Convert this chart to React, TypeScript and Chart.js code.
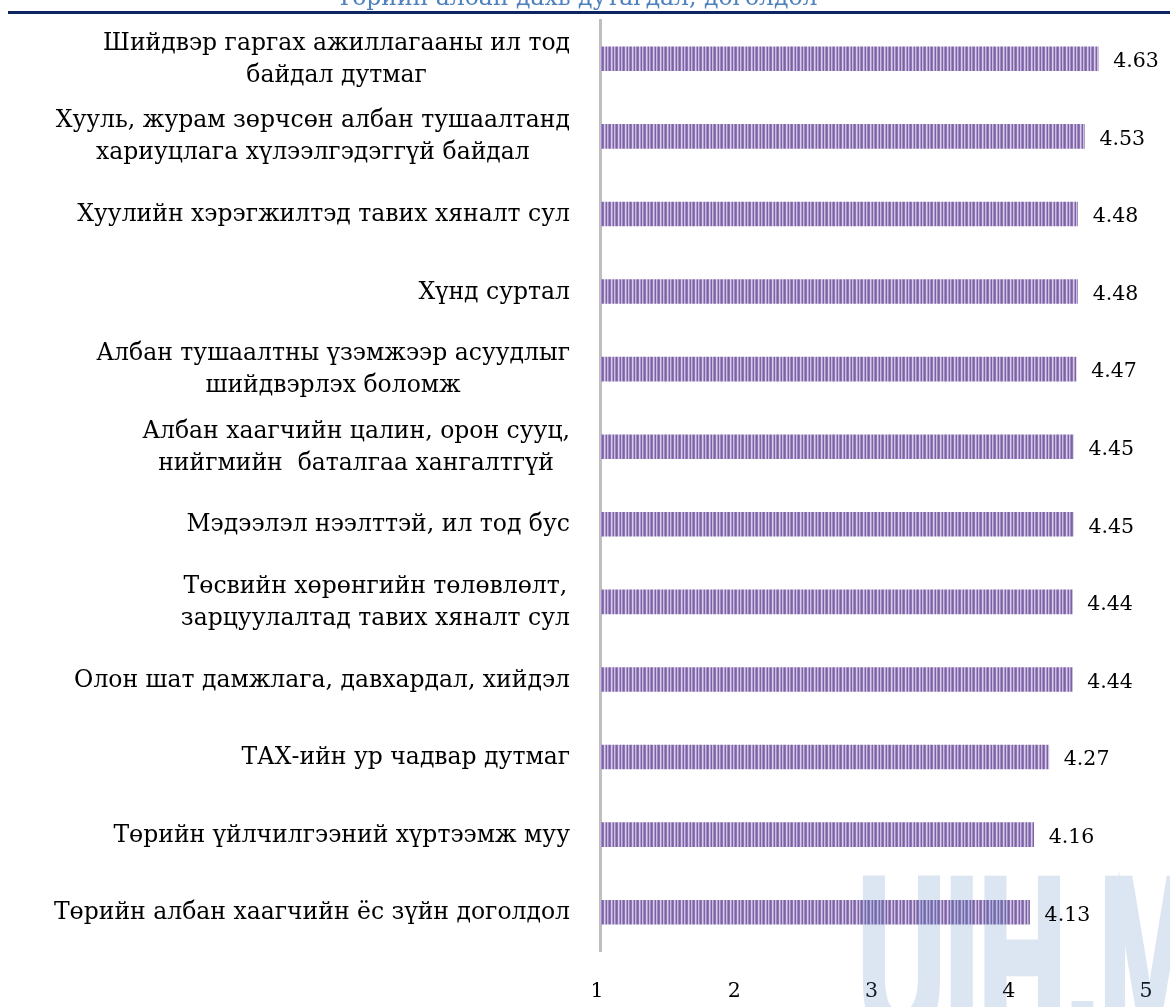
import React, { useEffect, useRef } from "react";
import { Chart, registerables } from "chart.js";

Chart.register(...registerables);

// ---------- data ----------
const categories: string[][] = [
  ["Шийдвэр гаргах ажиллагааны ил тод", "байдал дутмаг"],
  ["Хууль, журам зөрчсөн албан тушаалтанд", "хариуцлага хүлээлгэдэггүй байдал"],
  ["Хуулийн хэрэгжилтэд тавих хяналт сул"],
  ["Хүнд суртал"],
  ["Албан тушаалтны үзэмжээр асуудлыг", "шийдвэрлэх боломж"],
  ["Албан хаагчийн цалин, орон сууц,", "нийгмийн  баталгаа хангалтгүй"],
  ["Мэдээлэл нээлттэй, ил тод бус"],
  ["Төсвийн хөрөнгийн төлөвлөлт,", "зарцуулалтад тавих хяналт сул"],
  ["Олон шат дамжлага, давхардал, хийдэл"],
  ["ТАХ-ийн ур чадвар дутмаг"],
  ["Төрийн үйлчилгээний хүртээмж муу"],
  ["Төрийн албан хаагчийн ёс зүйн доголдол"],
];
const values: number[] = [4.63, 4.53, 4.48, 4.48, 4.47, 4.45, 4.45, 4.44, 4.44, 4.27, 4.16, 4.13];
const xTickValues: number[] = [1, 2, 3, 4, 5];
const titleText = "Төрийн албан дахь дутагдал, доголдол";
const watermarkText = "UIH.M";

const FONT = '"DejaVu Serif", "Liberation Serif", serif';
const LABEL_SIZE = 23.5;
const NUM_SIZE = 20.5;

function makePattern(): CanvasPattern | string {
  const tile = document.createElement("canvas");
  tile.width = 7;
  tile.height = 1;
  const c = tile.getContext("2d");
  if (!c) return "#8064a2";
  const cols = ["#7e62a3", "#8e75b3", "#d6cde9", "#ae9bcc", "#7e62a3", "#c9bde2", "#a08bc3"];
  cols.forEach((col, i) => {
    c.fillStyle = col;
    c.fillRect(i, 0, 1, 1);
  });
  const p = c.createPattern(tile, "repeat");
  return p || "#8064a2";
}

function drawWatermark(ctx: CanvasRenderingContext2D, w: number, h: number) {
  const off = document.createElement("canvas");
  off.width = w;
  off.height = h;
  const o = off.getContext("2d");
  if (!o) return;
  o.fillStyle = "#4f81bd";
  o.strokeStyle = "#4f81bd";
  o.lineJoin = "miter";
  o.font = 'bold 232px "Liberation Sans", Arial, sans-serif';
  o.textBaseline = "alphabetic";
  o.translate(858, 1040);
  o.scale(0.52, 1);
  o.lineWidth = 9;
  o.fillText(watermarkText, 0, 0);
  o.strokeText(watermarkText, 0, 0);
  ctx.save();
  ctx.setTransform(1, 0, 0, 1, 0, 0);
  ctx.globalAlpha = 0.2;
  ctx.drawImage(off, 0, 0);
  ctx.restore();
}

const decorPlugin = {
  id: "decor",
  afterDatasetsDraw(chart: any) {
    drawWatermark(chart.ctx, chart.canvas.width, chart.canvas.height);
  },
  afterDraw(chart: any) {
    const ctx = chart.ctx as CanvasRenderingContext2D;
    const yScale = chart.scales.y;
    ctx.save();
    // header title (cut off at top) and rule
    ctx.fillStyle = "#4f81bd";
    ctx.font = `${LABEL_SIZE}px ${FONT}`;
    ctx.textAlign = "center";
    ctx.textBaseline = "alphabetic";
    ctx.fillText(titleText, 577, 5);
    ctx.fillStyle = "#0d2561";
    ctx.fillRect(8, 11, 1162, 3);

    // category labels
    ctx.fillStyle = "#000";
    ctx.textBaseline = "middle";
    ctx.textAlign = "center";
    categories.forEach((lines, i) => {
      const cy = yScale.getPixelForValue(i);
      const w = Math.max(...lines.map((l) => ctx.measureText(l).width));
      const cx = 570 - w / 2;
      lines.forEach((l, j) => {
        ctx.fillText(l, cx, cy + (j - (lines.length - 1) / 2) * 32 + 1);
      });
    });

    // value labels
    ctx.font = `${NUM_SIZE}px ${FONT}`;
    ctx.textAlign = "left";
    const meta = chart.getDatasetMeta(0);
    meta.data.forEach((bar: any, i: number) => {
      ctx.fillText(values[i].toFixed(2), bar.x + 15, bar.y + 3);
    });
    ctx.restore();
  },
};

export default function App() {
  const ref = useRef<HTMLCanvasElement | null>(null);

  useEffect(() => {
    if (!ref.current) return;
    const pattern = makePattern();
    const chart = new Chart(ref.current, {
      type: "bar",
      data: {
        labels: categories.map((c) => c.join(" ")),
        datasets: [
          {
            data: values,
            backgroundColor: pattern as any,
            borderWidth: 0,
            barThickness: 24,
          },
        ],
      },
      options: {
        indexAxis: "y",
        animation: false,
        responsive: true,
        maintainAspectRatio: false,
        devicePixelRatio: 1,
        layout: { padding: { top: 20, right: 21, left: 0, bottom: 0 } },
        plugins: {
          legend: { display: false },
          tooltip: { enabled: false },
          title: { display: false },
        },
        scales: {
          x: {
            type: "linear",
            min: xTickValues[0],
            max: xTickValues[xTickValues.length - 1],
            grid: { display: false, drawTicks: false },
            border: { display: false },
            afterBuildTicks: (scale: any) => {
              scale.ticks = xTickValues.map((v) => ({ value: v }));
            },
            afterFit: (scale: any) => {
              scale.height = 56;
              scale.paddingLeft = 0;
              scale.paddingRight = 0;
            },
            ticks: {
              color: "#000",
              padding: 28,
              labelOffset: -3,
              font: { family: FONT, size: NUM_SIZE },
              maxRotation: 0,
            },
          },
          y: {
            type: "category",
            grid: { display: false, drawTicks: false },
            border: { display: true, color: "#bfbfbf", width: 3 },
            ticks: { display: false },
            afterFit: (scale: any) => {
              scale.width = 600;
              scale.paddingTop = 0;
              scale.paddingBottom = 0;
            },
          },
        },
      },
      plugins: [decorPlugin],
    });
    return () => chart.destroy();
  }, []);

  return (
    <div
      style={{
        position: "absolute",
        left: 0,
        top: 0,
        width: 1170,
        height: 1007,
        overflow: "hidden",
        background: "#fff",
      }}
    >
      <canvas ref={ref} style={{ display: "block" }} />
    </div>
  );
}
